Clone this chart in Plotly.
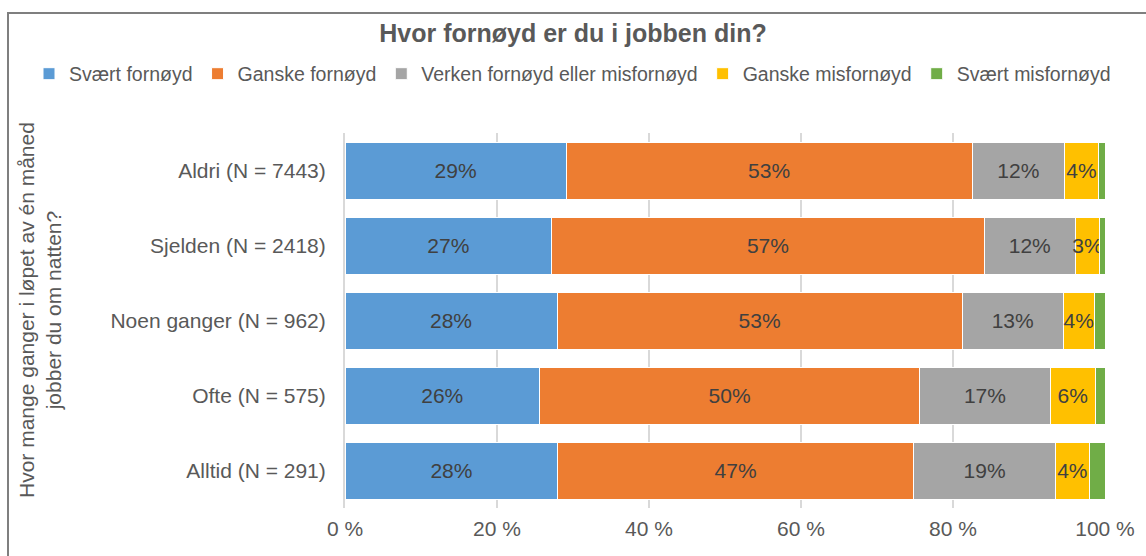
import plotly.graph_objects as go

categories = ["Aldri (N = 7443)", "Sjelden (N = 2418)", "Noen ganger (N = 962)",
              "Ofte (N = 575)", "Alltid (N = 291)"]
series_names = ["Svært fornøyd", "Ganske fornøyd", "Verken fornøyd eller misfornøyd",
                "Ganske misfornøyd", "Svært misfornøyd"]
svaert_fornoyd = [29.1, 27.2, 27.9, 25.6, 28.0]
ganske_fornoyd = [53.4, 56.9, 53.3, 50.0, 46.8]
verken = [12.2, 12.0, 13.3, 17.2, 18.7]
ganske_misfornoyd = [4.4, 3.2, 4.1, 5.9, 4.4]
svaert_misfornoyd = [0.9, 0.7, 1.4, 1.3, 2.1]
tick_vals = [0, 20, 40, 60, 80, 100]
tick_text = ["0 %", "20 %", "40 %", "60 %", "80 %", "100 %"]

colors = ["#5B9BD5", "#ED7D31", "#A5A5A5", "#FFC000", "#70AD47"]
values = [svaert_fornoyd, ganske_fornoyd, verken, ganske_misfornoyd, svaert_misfornoyd]
show_labels = [True, True, True, True, False]

FONT = "Liberation Sans, Arial, sans-serif"
TXT = "#595959"

fig = go.Figure()
for name, vals, col, lab in zip(series_names, values, colors, show_labels):
    fig.add_trace(go.Bar(
        name=name, y=categories, x=vals, orientation="h",
        marker=dict(color=col, line=dict(color="white", width=1)),
        texttemplate="%{x:.0f}%" if lab else "",
        textposition="inside", insidetextanchor="middle", textangle=0,
        constraintext="none",
        textfont=dict(family=FONT, size=21, color="#404040"),
        hoverinfo="name+x",
    ))

fig.update_layout(
    barmode="stack", bargap=0.24,
    width=1146, height=556,
    margin=dict(l=345, r=41, t=133, b=48, autoexpand=False),
    paper_bgcolor="white", plot_bgcolor="white",
    font=dict(family=FONT, color=TXT, size=21),
    title=dict(text="<b>Hvor fornøyd er du i jobben din?</b>", x=0.5, xanchor="center",
               y=1 - 33 / 556, yanchor="middle", yref="container",
               font=dict(family=FONT, size=25, color=TXT)),
    legend=dict(orientation="h", xref="paper", yref="paper",
                x=(29 - 345) / 760, xanchor="left", y=(508 - 74) / 375, yanchor="middle",
                font=dict(family=FONT, size=19.5, color=TXT), itemwidth=30,
                traceorder="normal", bgcolor="rgba(0,0,0,0)"),
    xaxis=dict(range=[0, 100], tickvals=tick_vals, ticktext=tick_text,
               showgrid=True, gridcolor="#D9D9D9", gridwidth=1.5, zeroline=False,
               showline=False, ticks="", ticklabelstandoff=6, automargin=False,
               tickfont=dict(family=FONT, size=21, color=TXT)),
    yaxis=dict(autorange="reversed", showline=True, linecolor="#D9D9D9", linewidth=2,
               ticks="", ticklabelstandoff=13, showgrid=False, automargin=False,
               tickfont=dict(family=FONT, size=21, color=TXT)),
    annotations=[dict(text="Hvor mange ganger i løpet av én måned<br>jobber du om natten?",
                      xref="paper", yref="paper", x=(40 - 345) / 760, y=(508 - 310) / 375,
                      xanchor="center", yanchor="middle", textangle=-90, showarrow=False,
                      font=dict(family=FONT, size=21, color=TXT))],
    shapes=[dict(type="rect", xref="paper", yref="paper",
                 x0=(8 - 345) / 760, x1=2.0, y0=-1.0, y1=(508 - 13) / 375,
                 line=dict(color="#7F7F7F", width=2), layer="below")],
)

fig.write_html("out.html", post_script="document.body.style.margin='0';",
               config={"displayModeBar": False})
